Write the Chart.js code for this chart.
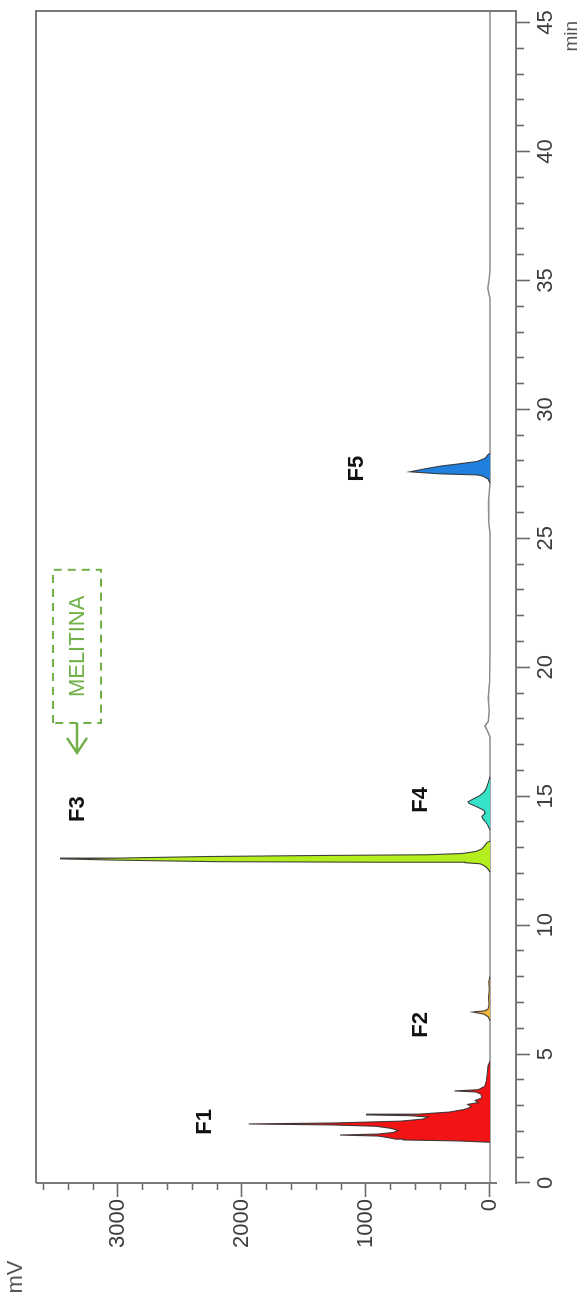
<!DOCTYPE html>
<html>
<head>
<meta charset="utf-8">
<script src="https://cdn.jsdelivr.net/npm/chart.js@4"></script>
<style>
  html, body { margin: 0; padding: 0; background: #fff; }
  body { width: 584px; height: 1302px; position: relative; overflow: hidden; }
  /* the chromatogram is laid out landscape and turned a quarter counter-clockwise */
  #wrap {
    position: absolute; left: 0; top: 0;
    width: 1302px; height: 584px;
    transform-origin: 0 0;
    transform: translateY(1302px) rotate(-90deg);
  }
</style>
</head>
<body>
<div id="wrap"><canvas id="c" width="1302" height="584"></canvas></div>
<script>
// Retention time (min) and detector signal (mV) for each collected fraction
const f1Time = [1.58, 1.63, 1.67, 1.70, 1.76, 1.82, 1.86, 1.90, 1.96, 2.04, 2.12, 2.20, 2.25, 2.29, 2.33, 2.40, 2.48, 2.56, 2.61, 2.64, 2.67, 2.75, 2.85, 2.95, 3.05, 3.12, 3.20, 3.30, 3.45, 3.53, 3.57, 3.62, 3.75, 3.95, 4.25, 4.55, 4.72];
const f1mV   = [0, 250, 700, 760, 820, 900, 1210, 900, 780, 740, 800, 920, 1260, 1945, 1240, 720, 540, 500, 640, 1000, 580, 330, 210, 150, 180, 95, 120, 65, 75, 115, 285, 95, 42, 30, 22, 15, 0];

const f2Time = [6.30, 6.45, 6.55, 6.63, 6.68, 6.75, 6.90, 7.20, 7.50, 7.80, 8.00];
const f2mV   = [0, 15, 50, 138, 40, 15, 8, 12, 6, 10, 0];

const f3Time = [12.06, 12.20, 12.30, 12.38, 12.42, 12.44, 12.46, 12.52, 12.57, 12.60, 12.66, 12.70, 12.73, 12.78, 12.86, 12.96, 13.10, 13.20, 13.26];
const f3mV   = [0, 20, 45, 80, 200, 900, 2200, 3000, 3468, 3000, 2300, 1400, 500, 220, 110, 65, 40, 25, 0];

const f4Time = [13.70, 13.85, 14.00, 14.12, 14.22, 14.34, 14.45, 14.60, 14.72, 14.78, 14.88, 15.00, 15.15, 15.30, 15.50, 15.75];
const f4mV   = [0, 15, 35, 58, 65, 40, 48, 110, 168, 177, 140, 90, 50, 30, 15, 0];

const f5Time = [27.15, 27.30, 27.42, 27.46, 27.50, 27.58, 27.70, 27.80, 27.90, 27.98, 28.10, 28.25, 28.30];
const f5mV   = [0, 15, 60, 105, 400, 645, 520, 400, 230, 105, 40, 15, 0];

// Baseline trace between the fractions
const baseTime = [0, 1.58, 4.72, 6.30, 8.00, 12.06, 13.26, 13.70, 15.75, 17.30, 17.55, 17.72, 17.90, 18.30, 18.80, 19.40, 20.50, 25.20, 25.60, 26.40, 27.15, 28.30, 34.30, 34.70, 35.00, 35.40, 45.45];
const basemV   = [0, 0, 0, 0, 0, 0, 0, 0, 0, 0, 22, 40, 14, 6, 14, 4, 0, 0, 10, 12, 0, 0, 0, 18, 8, 0, 0];

// Axis ranges and labelled ticks
const timeMin = 0, timeMax = 45.45, timeStep = 1, timeLabelEvery = 5;
const mVMin = -210, mVMax = 3661, mVStep = 200, mVLabelEvery = 1000, mVAxisEnd = -56;

// Fraction labels: [text, time, mV]
const fractionLabels = [
  ['F1', 2.37, 2298],
  ['F2', 6.13, 556],
  ['F3', 14.50, 3322],
  ['F4', 14.86, 556],
  ['F5', 27.70, 1073]
];
// Dashed marker for the melittin region
const melitinaText = 'MELITINA';
const melitinaBox = { t0: 17.84, t1: 23.78, v0: 3137, v1: 3524 };
const melitinaArrowTip = 16.68;
const timeUnitAt = 44.47;

const fractionColors = ['#f21414', '#f2b63a', '#b4ee1e', '#36e3c9', '#1f80de'];

function pts(ts, vs) { return ts.map((t, i) => ({ x: t, y: vs[i] })); }

const outline = 'rgba(45,45,45,0.9)';
const fractionSets = [
  [f1Time, f1mV], [f2Time, f2mV], [f3Time, f3mV], [f4Time, f4mV], [f5Time, f5mV]
].map((d, i) => ({
  data: pts(d[0], d[1]),
  borderColor: outline,
  borderWidth: 1.1,
  backgroundColor: fractionColors[i],
  fill: 'origin',
  pointRadius: 0,
  tension: 0
}));

const baselineSet = {
  data: pts(baseTime, basemV),
  borderColor: '#8c8c8c',
  borderWidth: 1.6,
  fill: false,
  pointRadius: 0,
  tension: 0
};

const FONT = "'Liberation Sans', Arial, sans-serif";

const decorations = {
  id: 'decorations',
  afterDatasetsDraw(chart) {
    const { ctx, chartArea: a, scales: { x, y } } = chart;
    ctx.save();
    // frame: top (signal max side), far end of time axis, and the signal axis
    ctx.strokeStyle = '#7a7a7a';
    ctx.lineWidth = 2;
    ctx.beginPath();
    ctx.moveTo(a.left, a.top);
    ctx.lineTo(a.right, a.top);
    ctx.lineTo(a.right, a.bottom);
    ctx.moveTo(a.left, a.top);
    ctx.lineTo(a.left, y.getPixelForValue(mVAxisEnd));
    ctx.stroke();

    // fraction labels
    ctx.fillStyle = '#111';
    ctx.font = 'bold 22px ' + FONT;
    ctx.textAlign = 'center';
    ctx.textBaseline = 'middle';
    fractionLabels.forEach(([txt, t, v]) => {
      ctx.fillText(txt, x.getPixelForValue(t), y.getPixelForValue(v));
    });

    // melittin marker
    const green = '#72b04a';
    const bx0 = x.getPixelForValue(melitinaBox.t0), bx1 = x.getPixelForValue(melitinaBox.t1);
    const by0 = y.getPixelForValue(melitinaBox.v1), by1 = y.getPixelForValue(melitinaBox.v0);
    ctx.strokeStyle = green;
    ctx.lineWidth = 2;
    ctx.setLineDash([8, 6]);
    ctx.strokeRect(bx0, by0, bx1 - bx0, by1 - by0);
    ctx.setLineDash([]);
    const midY = (by0 + by1) / 2;
    const tipX = x.getPixelForValue(melitinaArrowTip);
    ctx.lineWidth = 2.5;
    ctx.beginPath();
    ctx.moveTo(bx0, midY);
    ctx.lineTo(tipX, midY);
    ctx.moveTo(tipX + 15, midY - 10);
    ctx.lineTo(tipX, midY);
    ctx.lineTo(tipX + 15, midY + 10);
    ctx.stroke();
    ctx.fillStyle = green;
    ctx.font = '22px ' + FONT;
    ctx.fillText(melitinaText, (bx0 + bx1) / 2, midY + 1);

    // axis units
    ctx.fillStyle = '#555';
    ctx.font = '22px ' + FONT;
    ctx.fillText('mV', 25, 16);
    ctx.font = '19px ' + FONT;
    ctx.fillText('min', x.getPixelForValue(timeUnitAt), 572);
    ctx.restore();
  }
};

new Chart(document.getElementById('c'), {
  type: 'line',
  data: { datasets: [...fractionSets, baselineSet] },
  plugins: [decorations],
  options: {
    responsive: false,
    animation: false,
    devicePixelRatio: 1,
    layout: { padding: { left: 0, right: 11, top: 36, bottom: 0 } },
    plugins: { legend: { display: false }, tooltip: { enabled: false } },
    scales: {
      x: {
        type: 'linear',
        position: 'bottom',
        min: timeMin,
        max: timeMax,
        afterBuildTicks: s => { s.ticks = s.ticks.filter(t => t.value >= 0 && t.value <= 45); },
        afterFit: s => { s.height = 68; },
        ticks: {
          stepSize: timeStep,
          includeBounds: false,
          autoSkip: false,
          maxRotation: 0,
          padding: 3,
          color: '#3c3c3c',
          font: { family: FONT, size: 22 },
          callback: v => (v % timeLabelEvery === 0 ? String(v) : '')
        },
        grid: {
          drawOnChartArea: false,
          drawTicks: true,
          tickLength: 14,
          tickWidth: 1.6,
          tickColor: '#6a6a6a',
          tickBorderDash: c => (c.tick && c.tick.value % timeLabelEvery === 0 ? [] : [7, 1000])
        },
        border: { display: true, color: '#7a7a7a', width: 2 }
      },
      y: {
        type: 'linear',
        position: 'left',
        min: mVMin,
        max: mVMax,
        afterBuildTicks: s => { s.ticks = s.ticks.filter(t => t.value >= 0 && t.value <= 3600); },
        afterFit: s => { s.width = 119; },
        ticks: {
          stepSize: mVStep,
          includeBounds: false,
          autoSkip: false,
          padding: 2,
          color: '#3c3c3c',
          font: { family: FONT, size: 22 },
          callback: v => (v % mVLabelEvery === 0 ? String(v) : '')
        },
        grid: {
          drawOnChartArea: false,
          drawTicks: true,
          tickLength: 14,
          tickWidth: 1.6,
          tickColor: '#6a6a6a',
          tickBorderDash: c => (c.tick && c.tick.value % mVLabelEvery === 0 ? [] : [0, 7, 7, 1000])
        },
        border: { display: false }
      }
    }
  }
});
</script>
</body>
</html>
